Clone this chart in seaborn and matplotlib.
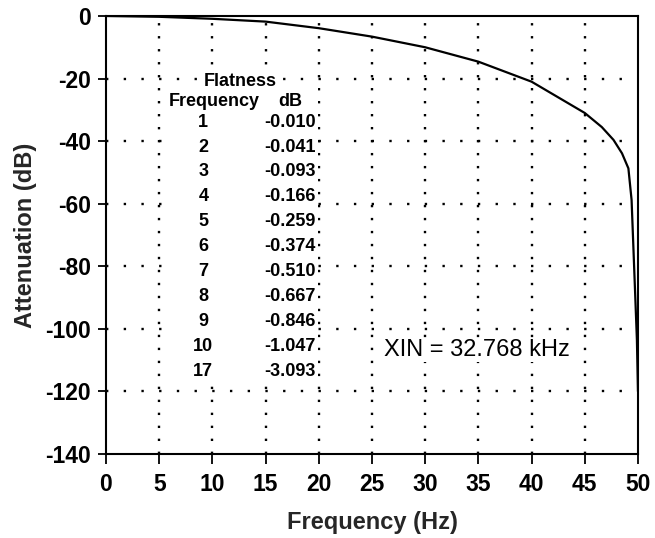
import matplotlib
matplotlib.use("Agg")
import matplotlib.pyplot as plt
import seaborn as sns
import pandas as pd

# ---- data ----
freq_hz = [0, 5, 10, 15, 20, 25, 30, 35, 40, 45, 46.6, 47.7, 48.5, 49.1, 49.4, 49.9, 50]
atten_db = [0, -0.26, -0.9, -1.8, -3.9, -6.6, -10.0, -14.6, -21, -31, -35.5, -39.6, -43.9,
            -48.7, -58.8, -103.5, -120]

table_freq = ["1", "2", "3", "4", "5", "6", "7", "8", "9", "10", "17"]
table_db = ["-0.010", "-0.041", "-0.093", "-0.166", "-0.259", "-0.374",
            "-0.510", "-0.667", "-0.846", "-1.047", "-3.093"]

x_ticks = [0, 5, 10, 15, 20, 25, 30, 35, 40, 45, 50]
y_ticks = [0, -20, -40, -60, -80, -100, -120, -140]

df = pd.DataFrame({"Frequency (Hz)": freq_hz, "Attenuation (dB)": atten_db})

sns.set_style("ticks")
plt.rcParams["font.family"] = ["Liberation Sans", "DejaVu Sans"]
plt.rcParams["axes.unicode_minus"] = False

fig = plt.figure(figsize=(6.55, 5.38), dpi=100)
ax = fig.add_axes([0.1618, 0.1561, 0.8122, 0.8142])

sns.lineplot(data=df, x="Frequency (Hz)", y="Attenuation (dB)", ax=ax,
             color="black", linewidth=1.6, sort=False, estimator=None, zorder=3)

ax.set_xlim(0, 50)
ax.set_ylim(-140, 0)
ax.set_xticks(x_ticks)
ax.set_yticks(y_ticks)

# dotted grid
for xv in x_ticks[1:-1]:
    ax.axvline(xv, color="black", linewidth=1.7, linestyle=(0, (1, 4.5)),
               dash_capstyle="butt", zorder=0)
for yv in y_ticks[1:-1]:
    ax.axhline(yv, color="black", linewidth=1.7, linestyle=(0, (1, 6.5)),
               dash_capstyle="butt", zorder=0)

# white area behind the flatness table (hides the grid there)
ax.fill_between([6.6, 19.9], -117, -23, color="white", linewidth=0, zorder=1)

for s in ax.spines.values():
    s.set_visible(True)
    s.set_linewidth(1.5)
    s.set_color("black")

ax.tick_params(axis="both", direction="out", width=1.3, colors="black",
               labelsize=16.5)
ax.tick_params(axis="x", length=7.5, pad=6)
ax.tick_params(axis="y", length=6, pad=5)
for lab in ax.get_xticklabels() + ax.get_yticklabels():
    lab.set_fontweight("bold")

ax.set_xlabel("Frequency (Hz)", fontsize=17, fontweight="bold", labelpad=11)
ax.set_ylabel("Attenuation (dB)", fontsize=17, fontweight="bold", labelpad=6)

# flatness table
tkw = dict(fontsize=13, fontweight="bold", color="black", va="center", zorder=2)
ax.text(12.6, -21, "Flatness", ha="center",
        bbox=dict(facecolor="white", edgecolor="none", pad=0.5), **tkw)
ax.text(10.2, -27.2, "Frequency", ha="center", **tkw)
ax.text(17.3, -27.2, "dB", ha="center", **tkw)
for i, (f, d) in enumerate(zip(table_freq, table_db)):
    yy = -33.9 - 7.98 * i
    ax.text(9.15, yy, f, ha="center", **tkw)
    ax.text(19.7, yy, d, ha="right", **tkw)

ax.text(26.1, -106.7, "XIN = 32.768 kHz", ha="left", va="center",
        fontsize=17, color="black", zorder=2,
        bbox=dict(facecolor="white", edgecolor="none", pad=0.5))

fig.savefig("out.png", dpi=100)
